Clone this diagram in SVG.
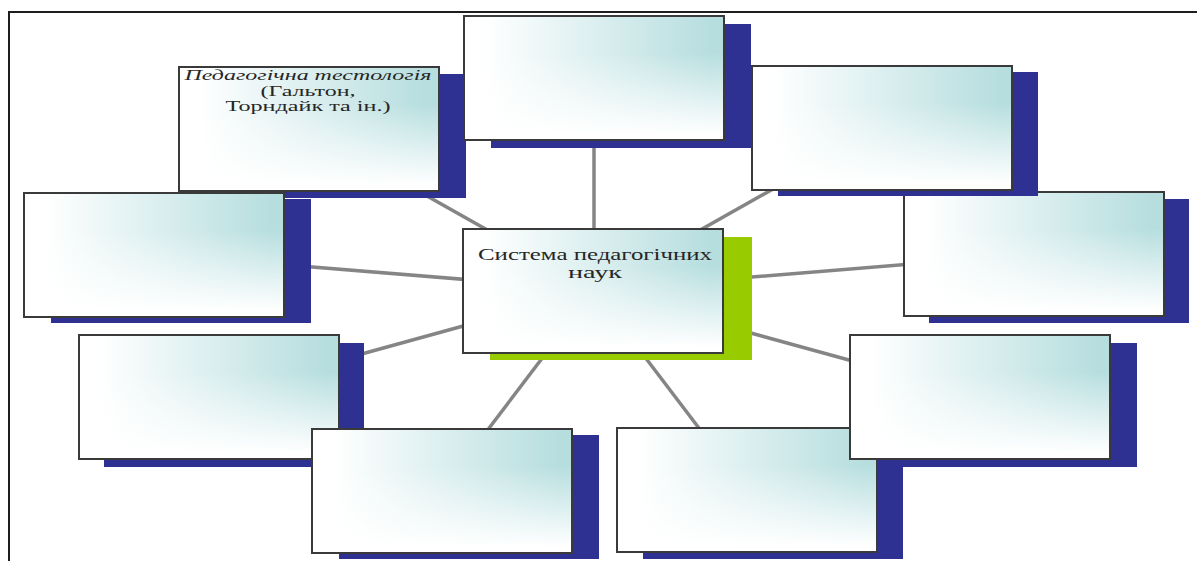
<svg xmlns="http://www.w3.org/2000/svg" width="1197" height="561" viewBox="0 0 1197 561">
<style>
.shadow{fill:#2e3092}
.gshadow{fill:#99cc00}
.box{fill:url(#gh)}
.fade{fill:url(#gv)}
.edge{fill:none;stroke:#3a3a3a;stroke-width:2}
.conn{stroke:#858585;stroke-width:3.5;stroke-linecap:butt}
.t{font-family:"Liberation Serif","Times New Roman",serif;fill:#262626;text-anchor:middle}
</style>
<defs>
<linearGradient id="gh" x1="0" y1="0" x2="1" y2="0">
<stop offset="0.08" stop-color="#ffffff"/>
<stop offset="0.95" stop-color="#b7dedf"/>
</linearGradient>
<linearGradient id="gv" x1="0" y1="0" x2="0" y2="1">
<stop offset="0.3" stop-color="#ffffff" stop-opacity="0"/>
<stop offset="0.95" stop-color="#ffffff" stop-opacity="1"/>
</linearGradient>
<g id="card">
<rect class="box" x="0" y="0" width="260" height="124"/>
<rect class="fade" x="0" y="0" width="260" height="124"/>
<rect class="edge" x="0" y="0" width="260" height="124"/>
</g>
</defs>
<rect x="0" y="0" width="1197" height="561" fill="#ffffff"/>
<g id="frame" fill="none" stroke="#1e1e1e" stroke-width="2">
<path d="M9 561 V12 H1197"/>
</g>
<g id="connectors">
<line class="conn" x1="594" y1="290" x2="594" y2="128"/>
<line class="conn" x1="594" y1="290" x2="308" y2="129"/>
<line class="conn" x1="594" y1="290" x2="881" y2="128"/>
<line class="conn" x1="594" y1="290" x2="154" y2="254"/>
<line class="conn" x1="594" y1="290" x2="1034" y2="254"/>
<line class="conn" x1="594" y1="290" x2="209" y2="396"/>
<line class="conn" x1="594" y1="290" x2="980" y2="396"/>
<line class="conn" x1="594" y1="290" x2="442" y2="490"/>
<line class="conn" x1="594" y1="290" x2="746" y2="490"/>
</g>
<g id="node-top-left">
<rect class="shadow" x="206" y="74" width="260" height="124"/>
<use href="#card" x="179" y="67"/>
<text class="t" x="308" y="80" font-size="15" font-style="italic" textLength="247" lengthAdjust="spacingAndGlyphs">Педагогічна тестологія</text>
<text class="t" x="308" y="96" font-size="15" textLength="95" lengthAdjust="spacingAndGlyphs">(Гальтон,</text>
<text class="t" x="308" y="111" font-size="15" textLength="165" lengthAdjust="spacingAndGlyphs">Торндайк та ін.)</text>
</g>
<g id="node-left">
<rect class="shadow" x="51" y="199" width="260" height="124"/>
<use href="#card" x="24" y="193"/>
</g>
<g id="node-top">
<rect class="shadow" x="491" y="24" width="260" height="124"/>
<use href="#card" x="464" y="16"/>
</g>
<g id="node-right">
<rect class="shadow" x="929" y="199" width="260" height="124"/>
<use href="#card" x="904" y="192"/>
</g>
<g id="node-top-right">
<rect class="shadow" x="778" y="72" width="260" height="124"/>
<use href="#card" x="752" y="66"/>
</g>
<g id="node-lower-left">
<rect class="shadow" x="104" y="343" width="260" height="124"/>
<use href="#card" x="79" y="335"/>
</g>
<g id="node-bottom-left">
<rect class="shadow" x="339" y="435" width="260" height="124"/>
<use href="#card" x="312" y="429"/>
</g>
<g id="node-bottom-right">
<rect class="shadow" x="643" y="435" width="260" height="124"/>
<use href="#card" x="617" y="428"/>
</g>
<g id="node-lower-right">
<rect class="shadow" x="877" y="343" width="260" height="124"/>
<use href="#card" x="850" y="335"/>
</g>
<g id="node-center">
<rect class="gshadow" x="490" y="237" width="262" height="123"/>
<use href="#card" x="463" y="229"/>
<text class="t" x="595" y="260" font-size="16" textLength="234" lengthAdjust="spacingAndGlyphs">Система педагогічних</text>
<text class="t" x="595" y="278" font-size="16" textLength="54" lengthAdjust="spacingAndGlyphs">наук</text>
</g>
</svg>
